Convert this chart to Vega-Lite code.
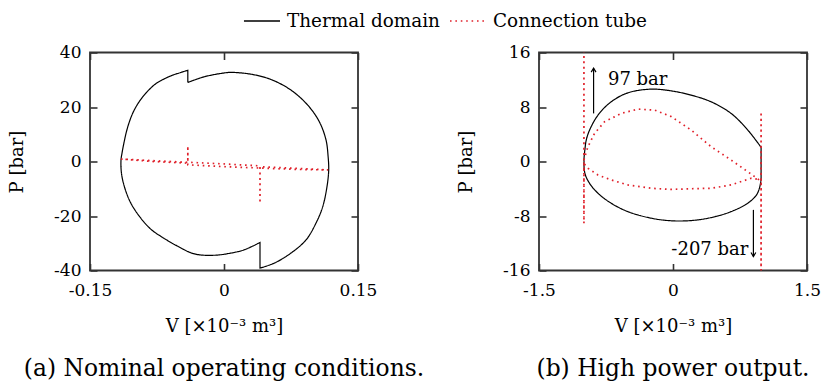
{
  "$schema": "https://vega.github.io/schema/vega-lite/v6.json",
  "background": "white",
  "padding": {"left": 7, "top": 1.5, "right": 2, "bottom": 2},
  "datasets": {
    "pv": [
      {"panel":"a","series":"Thermal domain","i":1,"V":-0.0405,"P":29.0},
      {"panel":"a","series":"Thermal domain","i":1.5,"V":-0.0405,"P":29.0},
      {"panel":"a","series":"Thermal domain","i":2,"V":-0.022,"P":31.1},
      {"panel":"a","series":"Thermal domain","i":3,"V":0.0003,"P":32.5},
      {"panel":"a","series":"Thermal domain","i":4,"V":0.008,"P":32.7},
      {"panel":"a","series":"Thermal domain","i":5,"V":0.030,"P":32.05},
      {"panel":"a","series":"Thermal domain","i":6,"V":0.0526,"P":30.1},
      {"panel":"a","series":"Thermal domain","i":7,"V":0.075,"P":26.2},
      {"panel":"a","series":"Thermal domain","i":8,"V":0.0937,"P":20.7},
      {"panel":"a","series":"Thermal domain","i":9,"V":0.1067,"P":14.6},
      {"panel":"a","series":"Thermal domain","i":10,"V":0.1142,"P":7.9},
      {"panel":"a","series":"Thermal domain","i":11,"V":0.1165,"P":2.0},
      {"panel":"a","series":"Thermal domain","i":12,"V":0.1172,"P":-3.1},
      {"panel":"a","series":"Thermal domain","i":13,"V":0.1153,"P":-9.2},
      {"panel":"a","series":"Thermal domain","i":14,"V":0.1105,"P":-16.6},
      {"panel":"a","series":"Thermal domain","i":15,"V":0.1030,"P":-22.6},
      {"panel":"a","series":"Thermal domain","i":16,"V":0.0918,"P":-28.8},
      {"panel":"a","series":"Thermal domain","i":17,"V":0.0750,"P":-33.6},
      {"panel":"a","series":"Thermal domain","i":18,"V":0.0563,"P":-37.3},
      {"panel":"a","series":"Thermal domain","i":19,"V":0.0403,"P":-39.1},
      {"panel":"a","series":"Thermal domain","i":19.5,"V":0.0403,"P":-39.1},
      {"panel":"a","series":"Thermal domain","i":20,"V":0.0403,"P":-29.7},
      {"panel":"a","series":"Thermal domain","i":20.5,"V":0.0403,"P":-29.7},
      {"panel":"a","series":"Thermal domain","i":21,"V":0.0227,"P":-32.4},
      {"panel":"a","series":"Thermal domain","i":22,"V":0.0078,"P":-33.6},
      {"panel":"a","series":"Thermal domain","i":23,"V":-0.0109,"P":-34.4},
      {"panel":"a","series":"Thermal domain","i":24,"V":-0.0332,"P":-33.9},
      {"panel":"a","series":"Thermal domain","i":25,"V":-0.0518,"P":-31.1},
      {"panel":"a","series":"Thermal domain","i":26,"V":-0.0705,"P":-27.5},
      {"panel":"a","series":"Thermal domain","i":27,"V":-0.0817,"P":-24.9},
      {"panel":"a","series":"Thermal domain","i":28,"V":-0.0929,"P":-20.9},
      {"panel":"a","series":"Thermal domain","i":29,"V":-0.1041,"P":-15.4},
      {"panel":"a","series":"Thermal domain","i":30,"V":-0.1108,"P":-10.0},
      {"panel":"a","series":"Thermal domain","i":31,"V":-0.1147,"P":-4.5},
      {"panel":"a","series":"Thermal domain","i":32,"V":-0.1153,"P":0.5},
      {"panel":"a","series":"Thermal domain","i":33,"V":-0.1142,"P":3.0},
      {"panel":"a","series":"Thermal domain","i":34,"V":-0.1122,"P":6.5},
      {"panel":"a","series":"Thermal domain","i":35,"V":-0.1097,"P":10.3},
      {"panel":"a","series":"Thermal domain","i":36,"V":-0.1065,"P":14.0},
      {"panel":"a","series":"Thermal domain","i":37,"V":-0.1022,"P":17.7},
      {"panel":"a","series":"Thermal domain","i":38,"V":-0.0970,"P":20.9},
      {"panel":"a","series":"Thermal domain","i":39,"V":-0.0910,"P":23.7},
      {"panel":"a","series":"Thermal domain","i":40,"V":-0.0840,"P":26.3},
      {"panel":"a","series":"Thermal domain","i":41,"V":-0.0761,"P":28.6},
      {"panel":"a","series":"Thermal domain","i":42,"V":-0.0670,"P":30.3},
      {"panel":"a","series":"Thermal domain","i":43,"V":-0.0574,"P":31.7},
      {"panel":"a","series":"Thermal domain","i":44,"V":-0.0490,"P":32.6},
      {"panel":"a","series":"Thermal domain","i":45,"V":-0.0405,"P":33.5},
      {"panel":"a","series":"Thermal domain","i":45.5,"V":-0.0405,"P":33.5},
      {"panel":"a","series":"Thermal domain","i":46,"V":-0.0405,"P":29.0},
      {"panel":"a","series":"Connection tube","i":1,"V":-0.1153,"P":0.9},
      {"panel":"a","series":"Connection tube","i":2,"V":-0.08,"P":0.3},
      {"panel":"a","series":"Connection tube","i":3,"V":-0.04,"P":-0.3},
      {"panel":"a","series":"Connection tube","i":4,"V":0.0,"P":-0.9},
      {"panel":"a","series":"Connection tube","i":5,"V":0.0403,"P":-1.6},
      {"panel":"a","series":"Connection tube","i":6,"V":0.0403,"P":-15.3},
      {"panel":"a","series":"Connection tube","i":7,"V":0.0403,"P":-1.9},
      {"panel":"a","series":"Connection tube","i":8,"V":0.08,"P":-2.5},
      {"panel":"a","series":"Connection tube","i":9,"V":0.1165,"P":-3.1},
      {"panel":"a","series":"Connection tube","i":10,"V":0.08,"P":-2.9},
      {"panel":"a","series":"Connection tube","i":11,"V":0.0403,"P":-2.4},
      {"panel":"a","series":"Connection tube","i":12,"V":0.0,"P":-1.9},
      {"panel":"a","series":"Connection tube","i":13,"V":-0.0405,"P":-1.2},
      {"panel":"a","series":"Connection tube","i":14,"V":-0.0405,"P":5.7},
      {"panel":"a","series":"Connection tube","i":15,"V":-0.0405,"P":-0.6},
      {"panel":"a","series":"Connection tube","i":16,"V":-0.08,"P":0.0},
      {"panel":"a","series":"Connection tube","i":17,"V":-0.1153,"P":0.9},
      {"panel":"b","series":"Thermal domain","i":1,"V":0.986,"P":2.08},
      {"panel":"b","series":"Thermal domain","i":1.5,"V":0.986,"P":2.08},
      {"panel":"b","series":"Thermal domain","i":2,"V":0.986,"P":-2.6},
      {"panel":"b","series":"Thermal domain","i":2.5,"V":0.986,"P":-2.6},
      {"panel":"b","series":"Thermal domain","i":3,"V":0.968,"P":-3.9},
      {"panel":"b","series":"Thermal domain","i":4,"V":0.930,"P":-5.0},
      {"panel":"b","series":"Thermal domain","i":5,"V":0.837,"P":-6.12},
      {"panel":"b","series":"Thermal domain","i":6,"V":0.650,"P":-7.36},
      {"panel":"b","series":"Thermal domain","i":7,"V":0.427,"P":-8.23},
      {"panel":"b","series":"Thermal domain","i":8,"V":0.203,"P":-8.67},
      {"panel":"b","series":"Thermal domain","i":9,"V":-0.021,"P":-8.7},
      {"panel":"b","series":"Thermal domain","i":10,"V":-0.244,"P":-8.32},
      {"panel":"b","series":"Thermal domain","i":11,"V":-0.505,"P":-7.36},
      {"panel":"b","series":"Thermal domain","i":12,"V":-0.692,"P":-6.12},
      {"panel":"b","series":"Thermal domain","i":13,"V":-0.840,"P":-4.66},
      {"panel":"b","series":"Thermal domain","i":14,"V":-0.934,"P":-3.2},
      {"panel":"b","series":"Thermal domain","i":15,"V":-0.985,"P":-1.8},
      {"panel":"b","series":"Thermal domain","i":16,"V":-0.997,"P":0.0},
      {"panel":"b","series":"Thermal domain","i":17,"V":-0.985,"P":1.9},
      {"panel":"b","series":"Thermal domain","i":18,"V":-0.971,"P":3.15},
      {"panel":"b","series":"Thermal domain","i":19,"V":-0.934,"P":4.6},
      {"panel":"b","series":"Thermal domain","i":20,"V":-0.840,"P":6.8},
      {"panel":"b","series":"Thermal domain","i":21,"V":-0.692,"P":8.76},
      {"panel":"b","series":"Thermal domain","i":22,"V":-0.505,"P":10.08},
      {"panel":"b","series":"Thermal domain","i":23,"V":-0.244,"P":10.62},
      {"panel":"b","series":"Thermal domain","i":24,"V":-0.021,"P":10.37},
      {"panel":"b","series":"Thermal domain","i":25,"V":0.203,"P":9.74},
      {"panel":"b","series":"Thermal domain","i":26,"V":0.427,"P":8.76},
      {"panel":"b","series":"Thermal domain","i":27,"V":0.650,"P":7.06},
      {"panel":"b","series":"Thermal domain","i":28,"V":0.837,"P":4.62},
      {"panel":"b","series":"Thermal domain","i":29,"V":0.986,"P":2.08},
      {"panel":"b","series":"Connection tube","i":1,"V":-0.997,"P":0.2},
      {"panel":"b","series":"Connection tube","i":2,"V":-0.975,"P":1.2},
      {"panel":"b","series":"Connection tube","i":3,"V":-0.952,"P":2.17},
      {"panel":"b","series":"Connection tube","i":4,"V":-0.878,"P":4.13},
      {"panel":"b","series":"Connection tube","i":5,"V":-0.766,"P":5.83},
      {"panel":"b","series":"Connection tube","i":6,"V":-0.580,"P":7.06},
      {"panel":"b","series":"Connection tube","i":7,"V":-0.393,"P":7.69},
      {"panel":"b","series":"Connection tube","i":8,"V":-0.207,"P":7.55},
      {"panel":"b","series":"Connection tube","i":9,"V":-0.021,"P":6.6},
      {"panel":"b","series":"Connection tube","i":10,"V":0.203,"P":4.62},
      {"panel":"b","series":"Connection tube","i":11,"V":0.427,"P":2.17},
      {"panel":"b","series":"Connection tube","i":12,"V":0.650,"P":0.22},
      {"panel":"b","series":"Connection tube","i":13,"V":0.837,"P":-1.5},
      {"panel":"b","series":"Connection tube","i":14,"V":0.986,"P":-2.9},
      {"panel":"b","series":"Connection tube","i":15,"V":0.986,"P":-207},
      {"panel":"b","series":"Connection tube","i":16,"V":0.986,"P":7.3},
      {"panel":"b","series":"Connection tube","i":17,"V":0.986,"P":-2.7},
      {"panel":"b","series":"Connection tube","i":18,"V":0.874,"P":-2.46},
      {"panel":"b","series":"Connection tube","i":19,"V":0.650,"P":-3.44},
      {"panel":"b","series":"Connection tube","i":20,"V":0.427,"P":-3.93},
      {"panel":"b","series":"Connection tube","i":21,"V":0.203,"P":-4.0},
      {"panel":"b","series":"Connection tube","i":22,"V":-0.021,"P":-4.1},
      {"panel":"b","series":"Connection tube","i":23,"V":-0.244,"P":-3.93},
      {"panel":"b","series":"Connection tube","i":24,"V":-0.505,"P":-3.44},
      {"panel":"b","series":"Connection tube","i":25,"V":-0.692,"P":-2.71},
      {"panel":"b","series":"Connection tube","i":26,"V":-0.840,"P":-1.98},
      {"panel":"b","series":"Connection tube","i":27,"V":-0.952,"P":-1.0},
      {"panel":"b","series":"Connection tube","i":28,"V":-0.997,"P":-0.3},
      {"panel":"b","series":"Connection tube","i":29,"V":-0.997,"P":97},
      {"panel":"b","series":"Connection tube","i":30,"V":-0.997,"P":-9.06},
      {"panel":"b","series":"Connection tube","i":31,"V":-0.997,"P":0.2}
    ],
    "notes": [
      {"id":"hi","V":-0.889,"P0":7.06,"P1":13.7,"TV":-0.728,"TP":11.3,"label":"97 bar"},
      {"id":"lo","V":0.900,"P0":-7.1,"P1":-13.95,"TV":0.844,"TP":-13.7,"label":"-207 bar"}
    ]
  },
  "data": {"name": "pv"},
  "spacing": 181,
  "bounds": "flush",
  "hconcat": [
    {
      "width": 268,
      "height": 218,
      "title": {"text": "(a) Nominal operating conditions.", "orient": "bottom", "anchor": "middle", "offset": 22},
      "transform": [{"filter": "datum.panel == 'a'"}],
      "layer": [
        {
          "transform": [{"filter": "datum.series == 'Thermal domain'"}],
          "mark": {"type": "line", "strokeWidth": 1.2, "clip": true, "interpolate": "catmull-rom"},
          "encoding": {
            "x": {"field": "V", "type": "quantitative", "scale": {"domain": [-0.15, 0.15], "nice": false, "zero": false},
                  "axis": {"orient": "bottom", "values": [-0.15, 0, 0.15], "title": "V [×10⁻³ m³]", "labelPadding": 19, "titlePadding": 19, "labelExpr": "replace(format(datum.value, '~g'), '−', '-')"}},
            "y": {"field": "P", "type": "quantitative", "scale": {"domain": [-40, 40], "nice": false, "zero": false},
                  "axis": {"orient": "left", "values": [-40, -20, 0, 20, 40], "title": "P [bar]", "labelPadding": 16, "titlePadding": 27, "labelExpr": "replace(format(datum.value, '~g'), '−', '-')"}},
            "order": {"field": "i", "type": "quantitative"},
            "color": {"field": "series", "type": "nominal", "scale": {"domain": ["Thermal domain", "Connection tube"], "range": ["#000000", "#e0202a"]},
                      "legend": {"title": null, "orient": "none", "legendX": 153, "legendY": -50.8, "direction": "horizontal"}},
            "strokeDash": {"field": "series", "type": "nominal", "scale": {"domain": ["Thermal domain", "Connection tube"], "range": [[1, 0], [1.6, 3.8]]},
                      "legend": {"title": null, "orient": "none", "legendX": 153, "legendY": -50.8, "direction": "horizontal"}}
          }
        },
        {
          "transform": [{"filter": "datum.series == 'Connection tube'"}],
          "mark": {"type": "line", "strokeWidth": 1.7, "clip": true},
          "encoding": {
            "x": {"field": "V", "type": "quantitative", "scale": {"domain": [-0.15, 0.15], "nice": false, "zero": false},
                  "axis": {"orient": "top", "values": [-0.15, 0, 0.15], "labels": false, "title": null}},
            "y": {"field": "P", "type": "quantitative", "scale": {"domain": [-40, 40], "nice": false, "zero": false},
                  "axis": {"orient": "right", "values": [-40, -20, 0, 20, 40], "labels": false, "title": null}},
            "order": {"field": "i", "type": "quantitative"},
            "color": {"field": "series", "type": "nominal", "scale": {"domain": ["Thermal domain", "Connection tube"], "range": ["#000000", "#e0202a"]},
                      "legend": {"title": null, "orient": "none", "legendX": 153, "legendY": -50.8, "direction": "horizontal"}},
            "strokeDash": {"field": "series", "type": "nominal", "scale": {"domain": ["Thermal domain", "Connection tube"], "range": [[1, 0], [1.6, 3.8]]},
                      "legend": {"title": null, "orient": "none", "legendX": 153, "legendY": -50.8, "direction": "horizontal"}}
          }
        }
      ],
      "resolve": {"axis": {"x": "independent", "y": "independent"}}
    },
    {
      "width": 268,
      "height": 218,
      "title": {"text": "(b) High power output.", "orient": "bottom", "anchor": "middle", "offset": 22},
      "layer": [
        {
          "transform": [{"filter": "datum.panel == 'b' && datum.series == 'Thermal domain'"}],
          "mark": {"type": "line", "strokeWidth": 1.2, "clip": true, "interpolate": "catmull-rom"},
          "encoding": {
            "x": {"field": "V", "type": "quantitative", "scale": {"domain": [-1.5, 1.5], "nice": false, "zero": false},
                  "axis": {"orient": "bottom", "values": [-1.5, 0, 1.5], "title": "V [×10⁻³ m³]", "labelPadding": 19, "titlePadding": 19, "labelExpr": "replace(format(datum.value, '~g'), '−', '-')"}},
            "y": {"field": "P", "type": "quantitative", "scale": {"domain": [-16, 16], "nice": false, "zero": false},
                  "axis": {"orient": "left", "values": [-16, -8, 0, 8, 16], "title": "P [bar]", "labelPadding": 16, "titlePadding": 27, "labelExpr": "replace(format(datum.value, '~g'), '−', '-')"}},
            "order": {"field": "i", "type": "quantitative"},
            "color": {"field": "series", "type": "nominal", "scale": {"domain": ["Thermal domain", "Connection tube"], "range": ["#000000", "#e0202a"]},
                      "legend": {"title": null, "orient": "none", "legendX": 153, "legendY": -50.8, "direction": "horizontal"}},
            "strokeDash": {"field": "series", "type": "nominal", "scale": {"domain": ["Thermal domain", "Connection tube"], "range": [[1, 0], [1.6, 3.8]]},
                      "legend": {"title": null, "orient": "none", "legendX": 153, "legendY": -50.8, "direction": "horizontal"}}
          }
        },
        {
          "transform": [{"filter": "datum.panel == 'b' && datum.series == 'Connection tube'"}],
          "mark": {"type": "line", "strokeWidth": 1.7, "clip": true},
          "encoding": {
            "x": {"field": "V", "type": "quantitative", "scale": {"domain": [-1.5, 1.5], "nice": false, "zero": false},
                  "axis": {"orient": "top", "values": [-1.5, 0, 1.5], "labels": false, "title": null}},
            "y": {"field": "P", "type": "quantitative", "scale": {"domain": [-16, 16], "nice": false, "zero": false},
                  "axis": {"orient": "right", "values": [-16, -8, 0, 8, 16], "labels": false, "title": null}},
            "order": {"field": "i", "type": "quantitative"},
            "color": {"field": "series", "type": "nominal", "scale": {"domain": ["Thermal domain", "Connection tube"], "range": ["#000000", "#e0202a"]},
                      "legend": {"title": null, "orient": "none", "legendX": 153, "legendY": -50.8, "direction": "horizontal"}},
            "strokeDash": {"field": "series", "type": "nominal", "scale": {"domain": ["Thermal domain", "Connection tube"], "range": [[1, 0], [1.6, 3.8]]},
                      "legend": {"title": null, "orient": "none", "legendX": 153, "legendY": -50.8, "direction": "horizontal"}}
          }
        },
        {
          "data": {"name": "notes"},
          "mark": {"type": "rule", "stroke": "#000", "strokeWidth": 1.2},
          "encoding": {
            "x": {"field": "V", "type": "quantitative", "scale": {"domain": [-1.5, 1.5], "nice": false, "zero": false}, "axis": null},
            "y": {"field": "P0", "type": "quantitative", "scale": {"domain": [-16, 16], "nice": false, "zero": false}, "axis": null},
            "y2": {"field": "P1"}
          }
        },
        {
          "data": {"name": "notes"},
          "transform": [{"filter": "datum.id == 'hi'"}],
          "mark": {"type": "point", "shape": "M-0.6,1L0,0L0.6,1", "filled": false, "stroke": "#000", "strokeWidth": 1.2, "size": 64, "opacity": 1},
          "encoding": {
            "x": {"field": "V", "type": "quantitative", "scale": {"domain": [-1.5, 1.5], "nice": false, "zero": false}, "axis": null},
            "y": {"field": "P1", "type": "quantitative", "scale": {"domain": [-16, 16], "nice": false, "zero": false}, "axis": null}
          }
        },
        {
          "data": {"name": "notes"},
          "transform": [{"filter": "datum.id == 'lo'"}],
          "mark": {"type": "point", "shape": "M-0.6,-1L0,0L0.6,-1", "filled": false, "stroke": "#000", "strokeWidth": 1.2, "size": 64, "opacity": 1},
          "encoding": {
            "x": {"field": "V", "type": "quantitative", "scale": {"domain": [-1.5, 1.5], "nice": false, "zero": false}, "axis": null},
            "y": {"field": "P1", "type": "quantitative", "scale": {"domain": [-16, 16], "nice": false, "zero": false}, "axis": null}
          }
        },
        {
          "data": {"name": "notes"},
          "transform": [{"filter": "datum.id == 'hi'"}],
          "mark": {"type": "text", "align": "left", "baseline": "alphabetic", "fontSize": 18, "font": "DejaVu Serif", "color": "#000"},
          "encoding": {
            "x": {"field": "TV", "type": "quantitative", "scale": {"domain": [-1.5, 1.5], "nice": false, "zero": false}, "axis": null},
            "y": {"field": "TP", "type": "quantitative", "scale": {"domain": [-16, 16], "nice": false, "zero": false}, "axis": null},
            "text": {"field": "label"}
          }
        },
        {
          "data": {"name": "notes"},
          "transform": [{"filter": "datum.id == 'lo'"}],
          "mark": {"type": "text", "align": "right", "baseline": "alphabetic", "fontSize": 18, "font": "DejaVu Serif", "color": "#000"},
          "encoding": {
            "x": {"field": "TV", "type": "quantitative", "scale": {"domain": [-1.5, 1.5], "nice": false, "zero": false}, "axis": null},
            "y": {"field": "TP", "type": "quantitative", "scale": {"domain": [-16, 16], "nice": false, "zero": false}, "axis": null},
            "text": {"field": "label"}
          }
        }
      ],
      "resolve": {"axis": {"x": "independent", "y": "independent"}}
    }
  ],
  "config": {
    "font": "DejaVu Serif",
    "view": {"stroke": "#333333", "strokeWidth": 1.8},
    "axis": {
      "domain": false, "grid": false, "ticks": true, "tickSize": -7, "tickColor": "#333333", "tickWidth": 1.6,
      "labelFont": "DejaVu Serif", "labelFontSize": 17, "labelColor": "#000000",
      "labelFlush": false, "labelOverlap": false, "labelBound": false,
      "titleFont": "DejaVu Serif", "titleFontSize": 18, "titleFontWeight": "normal", "titleColor": "#000000"
    },
    "legend": {
      "symbolType": "stroke", "symbolSize": 1300, "symbolStrokeWidth": 1.6,
      "labelFont": "DejaVu Serif", "labelFontSize": 18.4, "labelColor": "#000000", "labelLimit": 0,
      "labelOffset": 6, "columnPadding": 6, "padding": 0, "offset": 0
    },
    "title": {"font": "DejaVu Serif", "fontSize": 23.4, "fontWeight": "normal", "color": "#000000"}
  }
}
